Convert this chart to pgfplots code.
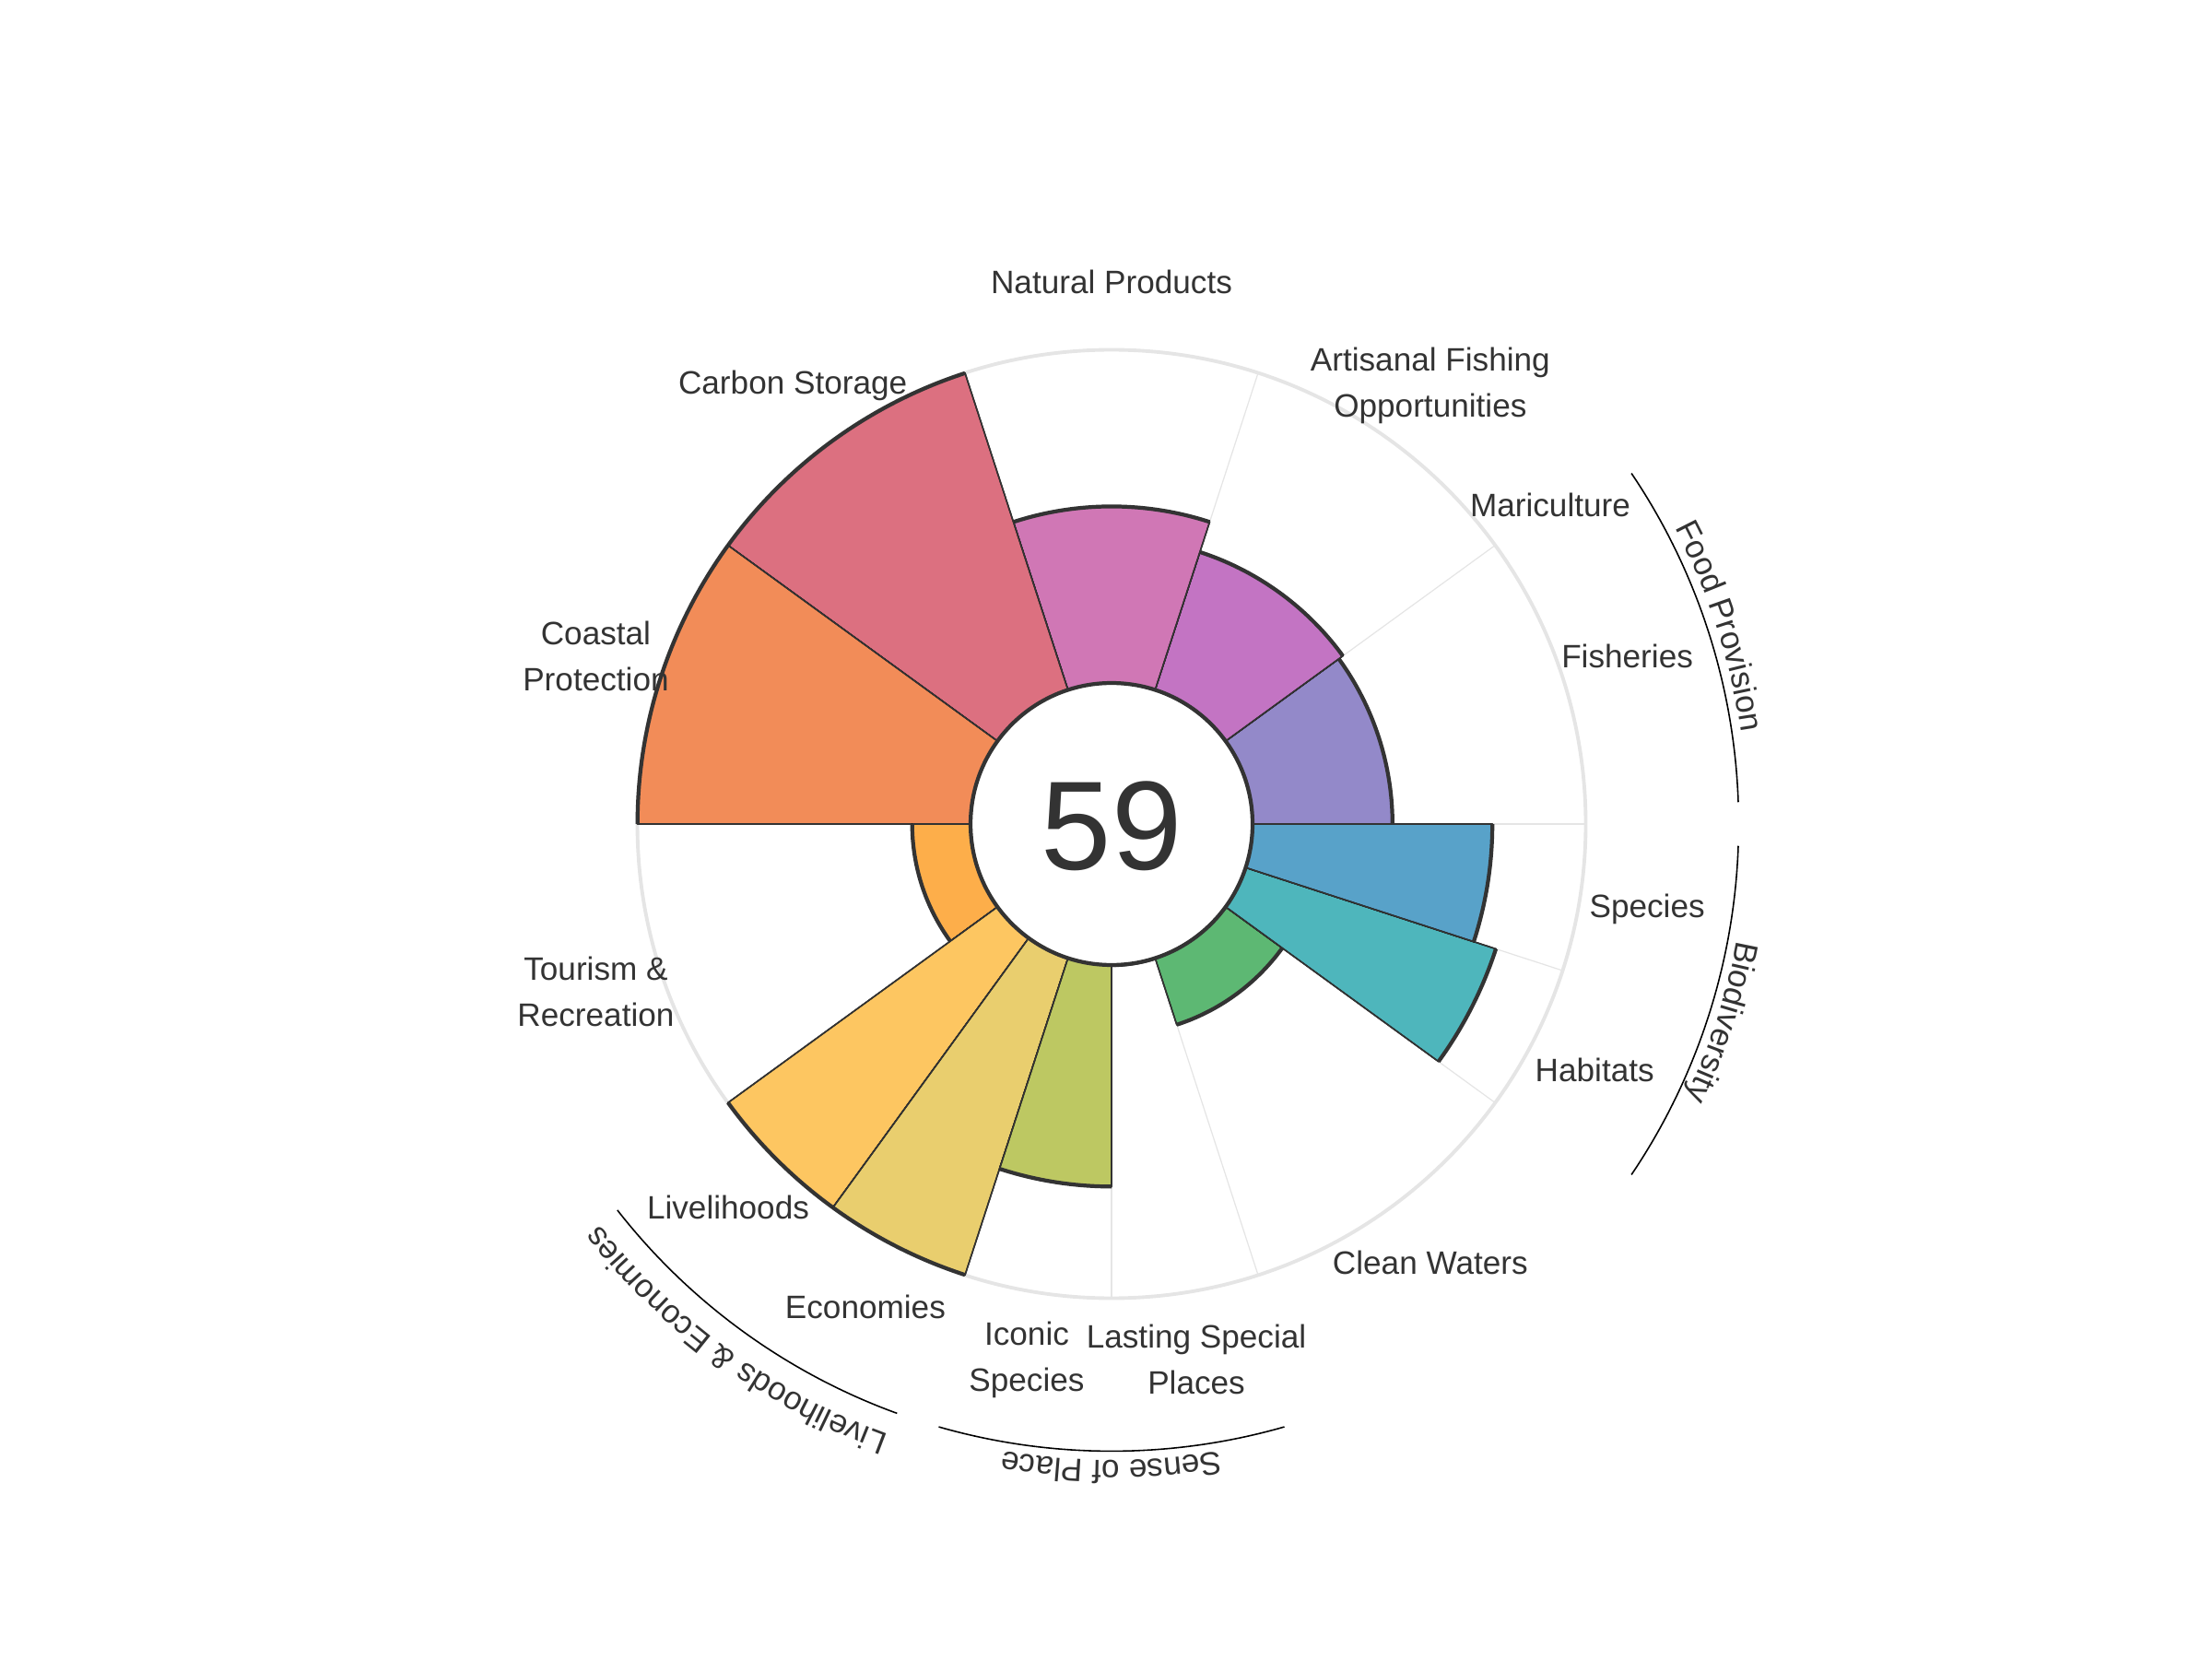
\documentclass[border=0pt]{standalone}
\usepackage{pgfplots}
\pgfplotsset{compat=1.18}
\usepackage{pgfplotstable}
\usepackage{fontspec}
\setmainfont{Liberation Sans}
\usetikzlibrary{decorations.text}

\definecolor{c333}{HTML}{333333}
\definecolor{gridc}{HTML}{E5E5E5}
\definecolor{p1}{HTML}{9389C9}
\definecolor{p2}{HTML}{C374C3}
\definecolor{p3}{HTML}{D077B5}
\definecolor{p4}{HTML}{DC7080}
\definecolor{p5}{HTML}{F28C58}
\definecolor{p6}{HTML}{FDAE4A}
\definecolor{p7}{HTML}{FDC661}
\definecolor{p8}{HTML}{E9CE6E}
\definecolor{p9}{HTML}{BDC862}
\definecolor{p10}{HTML}{9BC26B}
\definecolor{p11}{HTML}{5DB873}
\definecolor{p12}{HTML}{4EB6BC}
\definecolor{p13}{HTML}{58A2C9}

% goal, start angle, end angle, score (0-100), colour index
\pgfplotstableread{
goal start end score idx
Fisheries 0 36 42 1
Artisanal 36 72 43.5 2
NaturalProducts 72 108 53 3
CarbonStorage 108 144 100 4
CoastalProtection 144 180 100 5
Tourism 180 216 17.5 6
Livelihoods 216 234 100 7
Economies 234 252 100 8
IconicSpecies 252 270 66.5 9
LastingSpecialPlaces 270 288 0 10
CleanWaters 288 324 21 11
Habitats 324 342 79 12
Species 342 360 72 13
}\petals

\newcommand\lab{\fontsize{10}{14.2}\selectfont}

\begin{document}
\begin{tikzpicture}
\begin{axis}[hide axis, x=0.01cm, y=0.01cm,
  xmin=-1206, xmax=1194, ymin=-906, ymax=894, clip=false]

% outer reference circle
\addplot[only marks, mark=o, mark size=146.3pt,
  mark options={draw=gridc, line width=1.1pt}] coordinates {(0,0)};

% radial grid lines at petal boundaries
\pgfplotsinvokeforeach{0,36,72,108,144,180,216,234,252,270,288,324,342}{
  \addplot[gridc, line width=0.35pt, data cs=polar] coordinates {(#1,153) (#1,514)};
}

% petals
\addplot[scatter, only marks, mark=*, mark size=0pt,
  point meta=\thisrow{score}, point meta min=0, point meta max=100,
  visualization depends on={\thisrow{start} \as \sa},
  visualization depends on={\thisrow{end} \as \ea},
  visualization depends on={\thisrow{score} \as \sc},
  visualization depends on={\thisrow{idx} \as \ci},
  scatter/@pre marker code/.code={%
    \pgfmathtruncatemacro\cidx{\ci}%
    \pgfmathsetmacro\rin{1.53}%
    \pgfmathsetmacro\rout{1.53+0.0361*\sc}%
    \fill[fill=p\cidx] (\sa:\rin cm) -- (\sa:\rout cm)
       arc[start angle=\sa, end angle=\ea, radius=\rout cm]
       -- (\ea:\rin cm) arc[start angle=\ea, end angle=\sa, radius=\rin cm] -- cycle;
    \draw[c333, line width=0.45pt] (\sa:\rin cm) -- (\sa:\rout cm)
       (\ea:\rin cm) -- (\ea:\rout cm);
    \draw[c333, line width=1.2pt] (\sa:\rout cm)
       arc[start angle=\sa, end angle=\ea, radius=\rout cm];
  },
  scatter/@post marker code/.code={},
] table[x expr=0, y expr=0] {\petals};

% inner circle
\addplot[only marks, mark=*, mark size=43.5pt,
  mark options={fill=white, draw=c333, line width=1.2pt}] coordinates {(0,0)};

\coordinate (ctr) at (axis cs:0,0);
\path (axis cs:-1206,-906) rectangle (axis cs:1194,894);
\end{axis}

\begin{scope}[shift={(ctr)}]
  \node[font=\fontsize{39}{39}\selectfont, text=c333] at (0,-0.02) {59};

  \begin{scope}[every node/.style={font=\lab, text=c333, align=center}]
    \node at (18:5.88cm) {Fisheries};
    \node at (36:5.88cm) {Mariculture};
    \node at (54:5.88cm) {Artisanal Fishing\\Opportunities};
    \node at (90:5.88cm) {Natural Products};
    \node at (126:5.88cm) {Carbon Storage};
    \node at (162:5.88cm) {Coastal\\Protection};
    \node at (198:5.88cm) {Tourism \&\\Recreation};
    \node at (225:5.88cm) {Livelihoods};
    \node at (243:5.88cm) {Economies};
    \node at (261:5.88cm) {Iconic\\Species};
    \node at (279:5.88cm) {Lasting Special\\Places};
    \node at (306:5.88cm) {Clean Waters};
    \node at (333:5.88cm) {Habitats};
    \node at (351:5.88cm) {Species};
  \end{scope}

  % group arcs
  \draw[black, line width=0.45pt] (34:6.8cm) arc[start angle=34, end angle=2, radius=6.8cm];
  \draw[black, line width=0.45pt] (-2:6.8cm) arc[start angle=-2, end angle=-34, radius=6.8cm];
  \draw[black, line width=0.45pt] (286:6.8cm) arc[start angle=286, end angle=254, radius=6.8cm];
  \draw[black, line width=0.45pt] (250:6.8cm) arc[start angle=250, end angle=218, radius=6.8cm];

  % group labels along arcs
  \path[decorate, decoration={text along path, text align=center, text color=c333,
     text={|\lab|Food Provision}}]
     (40:6.9cm) arc[start angle=40, end angle=-4, radius=6.9cm];
  \path[decorate, decoration={text along path, text align=center, text color=c333,
     text={|\lab|Biodiversity}}]
     (4:6.9cm) arc[start angle=4, end angle=-40, radius=6.9cm];
  \path[decorate, decoration={text along path, text align=center, text color=c333,
     text={|\lab|Sense of Place}}]
     (300:6.9cm) arc[start angle=300, end angle=240, radius=6.9cm];
  \path[decorate, decoration={text along path, text align=center, text color=c333,
     text={|\lab|Livelihoods {\&} Economies}}]
     (262:7.05cm) arc[start angle=262, end angle=206, radius=7.05cm];
\end{scope}
\end{tikzpicture}
\end{document}
